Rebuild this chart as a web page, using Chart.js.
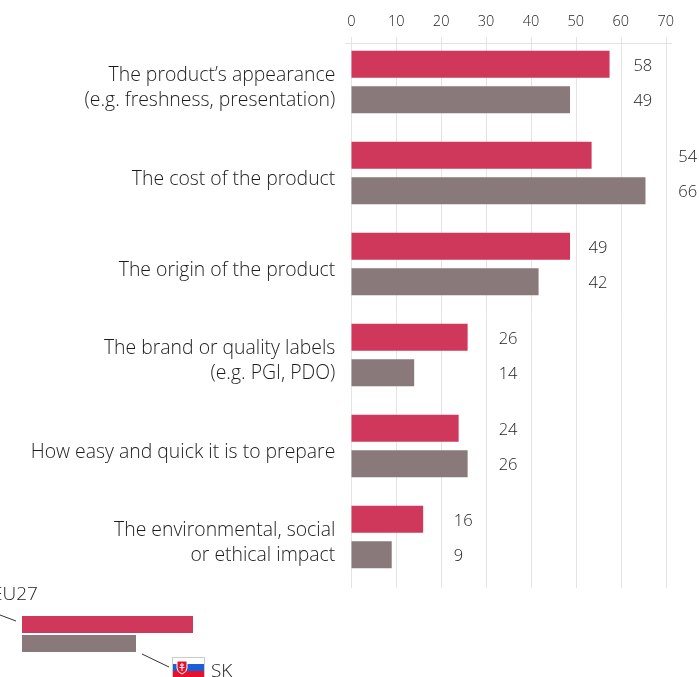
<!DOCTYPE html>
<html>
<head>
<meta charset="utf-8">
<style>
  html, body { margin: 0; padding: 0; background: #fff; overflow: hidden; }
  #wrap { position: relative; width: 699px; height: 677px; overflow: hidden; font-family: "Open Sans", sans-serif; font-weight: 300; color: #1c1c1c; }
  #chart { position: absolute; left: 0; top: 0; }
  .swatch { position: absolute; left: 22px; height: 17px; }
  .legend-text { position: absolute; font-size: 19px; line-height: 22px; }
  #leaders { position: absolute; left: 0; top: 0; }
</style>
<script src="https://cdn.jsdelivr.net/npm/chart.js@4"></script>
</head>
<body>
<div id="wrap">
  <canvas id="chart" width="699" height="677"></canvas>
  <svg id="leaders" width="699" height="677">
    <line x1="0" y1="615" x2="16" y2="621" stroke="#333" stroke-width="1"/>
    <line x1="142" y1="654" x2="169" y2="667" stroke="#333" stroke-width="1"/>
    <rect x="172.500" y="657.500" width="32" height="20" fill="#fff" stroke="#ccc" stroke-width="1"/>
    <rect x="173" y="664" width="31" height="7" fill="#1a5fd8"/>
    <rect x="173" y="671" width="31" height="6" fill="#e8112d"/>
    <path d="M177 661h10v7q0 4-5 6q-5-2-5-6z" fill="#e8112d" stroke="#fff" stroke-width="1"/>
    <path d="M182 663v8M180 665h4M179.500 667.500h5" stroke="#fff" stroke-width="1"/>
  </svg>
  <div class="swatch" style="top:616px;width:171px;background:#cf375b"></div>
  <div class="swatch" style="top:635px;width:114px;background:#8a797a"></div>
  <div class="legend-text" style="left:-8px;top:582px">EU27</div>
  <div class="legend-text" style="left:211px;top:659px">SK</div>
</div>
<script>
const categories = [
  ["The product’s appearance", "(e.g. freshness, presentation)"],
  "The cost of the product",
  "The origin of the product",
  ["The brand or quality labels", "(e.g. PGI, PDO)"],
  "How easy and quick it is to prepare",
  ["The environmental, social", "or ethical impact"]
];
// bar lengths as measured; the printed numbers are these rounded
const eu27 = [57.5, 53.5, 48.7, 25.9, 23.9, 16];
const sk = [48.7, 65.5, 41.7, 14, 25.9, 9];
const xTicks = [0, 10, 20, 30, 40, 50, 60, 70];

// numbers sit just past the next ten above the longer bar
const valueLabels = {
  id: 'valueLabels',
  afterDatasetsDraw(chart) {
    const ctx = chart.ctx;
    const x = chart.scales.x;
    ctx.save();
    ctx.font = '300 16.5px "Open Sans"';
    ctx.fillStyle = '#1c1c1c';
    ctx.textAlign = 'left';
    ctx.textBaseline = 'middle';
    chart.data.datasets.forEach(function (ds, d) {
      chart.getDatasetMeta(d).data.forEach(function (bar, i) {
        const slot = Math.ceil(Math.max(eu27[i], sk[i]) / 10) * 10;
        ctx.fillText(Math.round(ds.data[i]), x.getPixelForValue(slot) + 12.6, bar.y + 1.5);
      });
    });
    ctx.restore();
  }
};

// gridlines run a bit past the plot area, plus the rule under the tick labels
const frame = {
  id: 'frame',
  beforeDatasetsDraw(chart) {
    const ctx = chart.ctx;
    const x = chart.scales.x;
    ctx.save();
    ctx.strokeStyle = '#e4e4e4';
    ctx.lineWidth = 1;
    ctx.beginPath();
    xTicks.forEach(function (t) {
      const px = Math.round(x.getPixelForValue(t)) + 0.5;
      ctx.moveTo(px, 37);
      ctx.lineTo(px, 588);
    });
    ctx.moveTo(345, 43.5);
    ctx.lineTo(672, 43.5);
    ctx.stroke();
    ctx.restore();
  }
};

new Chart(document.getElementById('chart'), {
  type: 'bar',
  data: {
    labels: categories,
    datasets: [
      { label: 'EU27', data: eu27, backgroundColor: '#cf375b', categoryPercentage: 0.776, barPercentage: 0.765 },
      { label: 'SK', data: sk, backgroundColor: '#8a797a', categoryPercentage: 0.776, barPercentage: 0.765 }
    ]
  },
  plugins: [frame, valueLabels],
  options: {
    indexAxis: 'y',
    responsive: false,
    animation: false,
    layout: { padding: { top: 0, bottom: 94.5, right: 33.3, left: 0 } },
    plugins: { legend: { display: false }, tooltip: { enabled: false } },
    scales: {
      x: {
        position: 'top',
        min: 0,
        max: 70,
        afterFit(scale) { scale.height = 36.5; },
        afterBuildTicks(scale) { scale.ticks = xTicks.map(function (v) { return { value: v }; }); },
        grid: { display: false },
        border: { display: false },
        ticks: { color: '#222', font: { family: 'Open Sans', size: 14.5, weight: '300' }, padding: -2, maxRotation: 0 }
      },
      y: {
        afterFit(scale) { scale.width = 351.3; scale.paddingTop = 0; scale.paddingBottom = 0; },
        grid: { display: false },
        border: { display: false },
        ticks: { color: '#1c1c1c', font: { family: 'Open Sans', size: 19.4, weight: '300', lineHeight: 1.29 }, padding: 8, labelOffset: 6, autoSkip: false }
      }
    }
  }
});
</script>
</body>
</html>
